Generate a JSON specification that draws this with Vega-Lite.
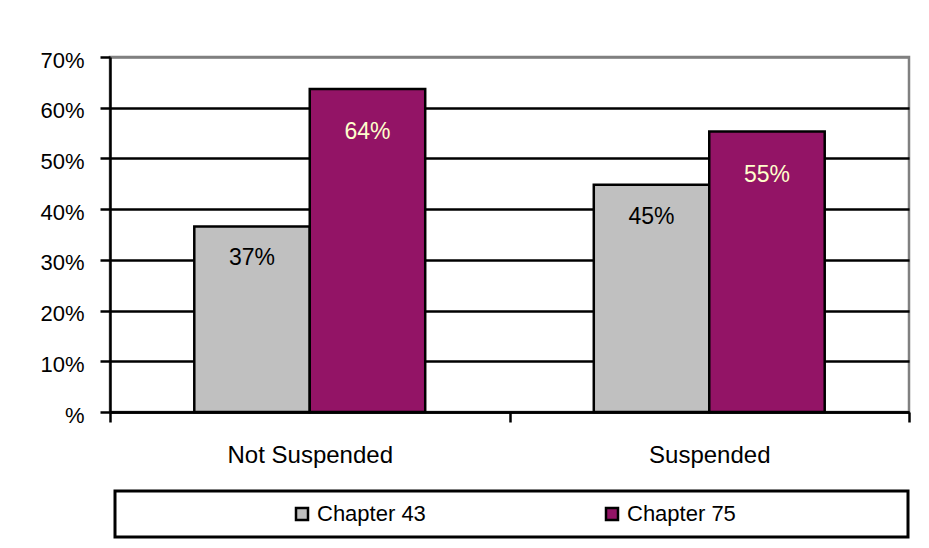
{
  "$schema": "https://vega.github.io/schema/vega-lite/v6.json",
  "width": 799,
  "height": 355,
  "autosize": {"type": "none"},
  "padding": {"left": 110, "top": 57, "right": 20, "bottom": 136},
  "background": "white",
  "data": {
    "values": [
      {"status": "Not Suspended", "group": "Chapter 43", "share": 0.366},
      {"status": "Not Suspended", "group": "Chapter 75", "share": 0.637},
      {"status": "Suspended", "group": "Chapter 43", "share": 0.448},
      {"status": "Suspended", "group": "Chapter 75", "share": 0.553}
    ]
  },
  "encoding": {
    "x": {
      "field": "status",
      "type": "nominal",
      "scale": {"paddingInner": 0, "paddingOuter": 0},
      "axis": {
        "title": null,
        "labelAngle": 0,
        "tickBand": "extent",
        "labelPadding": 21,
        "labelFontSize": 24,
        "tickSize": 10
      }
    },
    "xOffset": {"field": "group", "type": "nominal", "scale": {"paddingInner": 0, "paddingOuter": 0.73}},
    "y": {
      "field": "share",
      "type": "quantitative",
      "scale": {"domain": [0, 0.7], "nice": false},
      "axis": {
        "title": null,
        "values": [0, 0.1, 0.2, 0.3, 0.4, 0.5, 0.6, 0.7],
        "labelExpr": "datum.value == 0 ? '%' : format(datum.value, '.0%')",
        "grid": true,
        "gridColor": {"condition": {"test": "datum.value >= 0.69", "value": "#808080"}, "value": "black"},
        "gridWidth": 2.5,
        "tickSize": 10,
        "labelPadding": 16,
        "labelOffset": 3,
        "labelFontSize": 22
      }
    }
  },
  "layer": [
    {
      "mark": {"type": "bar", "stroke": "black", "strokeWidth": 2.5},
      "encoding": {
        "color": {
          "field": "group",
          "type": "nominal",
          "scale": {"domain": ["Chapter 43", "Chapter 75"], "range": ["#C0C0C0", "#931466"]},
          "legend": {
            "title": " ",
            "orient": "none",
            "direction": "horizontal",
            "legendX": 5,
            "legendY": 434,
            "titleOrient": "left",
            "titlePadding": 164,
            "labelExpr": "datum.label + '\u2800\u2800\u2800\u2800\u2800\u2800\u2800\u2800\u2800\u2800'",
            "columnPadding": 15,
            "symbolType": "square",
            "symbolSize": 144,
            "symbolStrokeColor": "black",
            "symbolStrokeWidth": 2.5,
            "labelOffset": 4
          }
        }
      }
    },
    {
      "transform": [{"filter": "datum.group == 'Chapter 43'"}],
      "mark": {"type": "text", "baseline": "middle", "dy": 32, "color": "black", "font": "Liberation Sans", "fontSize": 23},
      "encoding": {"text": {"field": "share", "type": "quantitative", "format": ".0%"}}
    },
    {
      "transform": [{"filter": "datum.group == 'Chapter 75'"}],
      "mark": {"type": "text", "baseline": "middle", "dy": 43, "color": "#FFFFCC", "font": "Liberation Sans", "fontSize": 23},
      "encoding": {"text": {"field": "share", "type": "quantitative", "format": ".0%"}}
    }
  ],
  "config": {
    "view": {"stroke": "#808080", "strokeWidth": 2.5},
    "font": "Liberation Sans",
    "axis": {
      "labelFont": "Liberation Sans",
      "labelFontSize": 22,
      "labelColor": "black",
      "domainColor": "black",
      "domainWidth": 2.5,
      "tickColor": "black",
      "tickWidth": 2.5
    },
    "legend": {
      "strokeColor": "black",
      "strokeWidth": 3,
      "padding": 12,
      "labelFont": "Liberation Sans",
      "labelFontSize": 22,
      "labelColor": "black",
      "labelLimit": 0,
      "titleFontSize": 22
    }
  }
}
